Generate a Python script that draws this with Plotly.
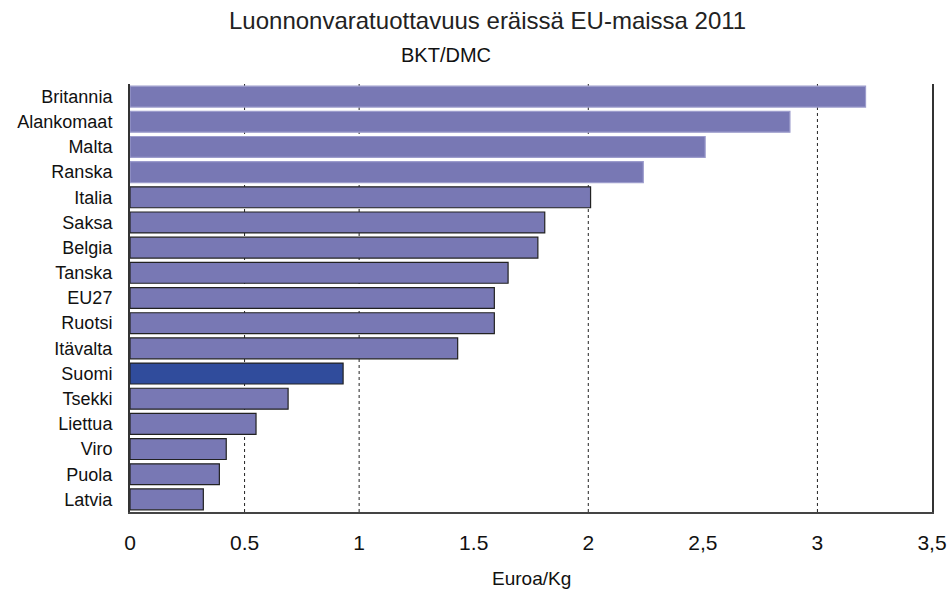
import plotly.graph_objects as go

countries = ["Britannia", "Alankomaat", "Malta", "Ranska", "Italia", "Saksa", "Belgia",
             "Tanska", "EU27", "Ruotsi", "Itävalta", "Suomi", "Tsekki", "Liettua",
             "Viro", "Puola", "Latvia"]
values = [3.21, 2.88, 2.51, 2.24, 2.01, 1.81, 1.78, 1.65, 1.59, 1.59, 1.43,
          0.93, 0.69, 0.55, 0.42, 0.39, 0.32]
tick_vals = [0, 0.5, 1, 1.5, 2, 2.5, 3, 3.5]
tick_text = ["0", "0.5", "1", "1.5", "2", "2,5", "3", "3,5"]
grid_vals = [0.5, 1, 2, 3]

base_col = "#7878B4"
hi_col = "#304C9C"
colors = [hi_col if c == "Suomi" else base_col for c in countries]
line_cols = ["#9C9CCC" if i < 4 else "#222222" for i in range(len(countries))]

FONT = "Liberation Sans, Arial, sans-serif"

fig = go.Figure()
fig.add_trace(go.Bar(
    y=countries, x=values, orientation="h",
    marker=dict(color=colors, line=dict(color=line_cols, width=1.2)),
    hoverinfo="x+y",
))

for g in grid_vals:
    fig.add_shape(type="line", xref="x", yref="paper", x0=g, x1=g, y0=0, y1=1,
                  line=dict(color="#222222", width=1, dash="dot"), layer="below")

fig.update_layout(
    width=951, height=589,
    margin=dict(l=130, r=19, t=84, b=77, autoexpand=False),
    paper_bgcolor="white", plot_bgcolor="white",
    showlegend=False,
    bargap=0.17,
    font=dict(family=FONT, color="#111111"),
    xaxis=dict(range=[0, 3.5], tickvals=tick_vals, ticktext=tick_text,
               showgrid=False, zeroline=False, showline=True, linecolor="#444444",
               linewidth=2, ticks="", tickfont=dict(size=21), ticklabelstandoff=11,
               automargin=False),
    yaxis=dict(autorange="reversed", showgrid=False, zeroline=False, showline=True,
               linecolor="#333333", linewidth=2, mirror=True, ticks="",
               tickfont=dict(size=18), ticklabelstandoff=12, automargin=False),
    annotations=[
        dict(text="Luonnonvaratuottavuus eräissä EU-maissa 2011", xref="paper", yref="paper",
             x=0.446, y=1, yshift=64, yanchor="middle", showarrow=False,
             font=dict(size=24, color="#222222"), xanchor="center"),
        dict(text="BKT/DMC", xref="paper", yref="paper", x=0.394, y=1, yshift=29,
             yanchor="middle", showarrow=False, font=dict(size=20), xanchor="center"),
        dict(text="Euroa/Kg", xref="paper", yref="paper", x=0.5, y=0, yshift=-66,
             yanchor="middle", showarrow=False, font=dict(size=19), xanchor="center"),
    ],
)

fig.write_html("out.html", config={"displayModeBar": False},
               post_script="document.body.style.margin='0';")
